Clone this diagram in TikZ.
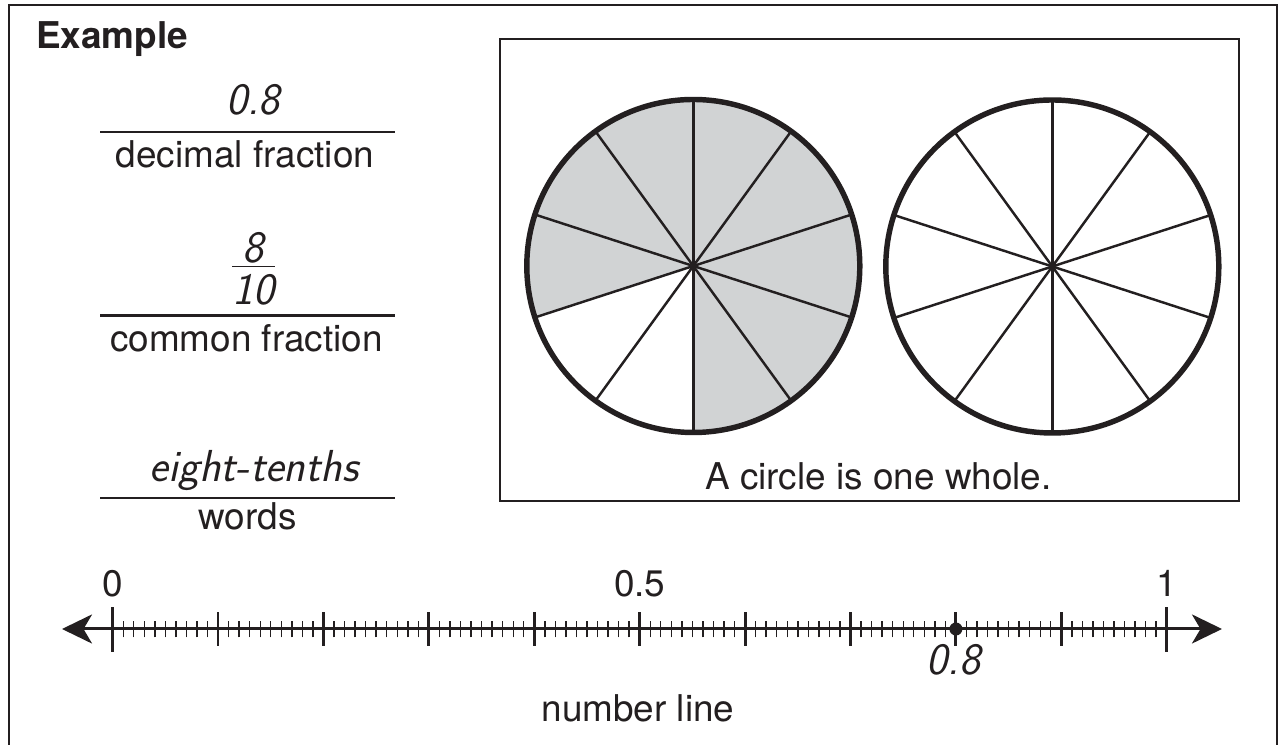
\documentclass[tikz,border=0pt]{standalone}
\usepackage{fontspec}
\setmainfont{TeX Gyre Heros}
\usetikzlibrary{arrows.meta,calc,positioning}
\definecolor{frInk}{HTML}{231F20}
\definecolor{frShade}{HTML}{D1D3D4}
\newcommand\frhand{\sffamily\itshape}
\tikzset{
  fr canvas/.style={fill=white},
  fr frame/.style={draw=frInk, line width=1.4pt},
  fr box/.style={draw=frInk, line width=1.1pt},
  fr rule/.style={draw=frInk, line width=1.4pt},
  fr rim/.style={draw=frInk, line width=3.1pt},
  fr spoke/.style={draw=frInk, line width=1.4pt},
  fr axis/.style={
    draw=frInk,
    line width=1.7pt,
    {Stealth[length=6mm,width=5.8mm,inset=1.7mm]}-{Stealth[length=6mm,width=5.8mm,inset=1.7mm]}
  },
  fr tick end/.style={draw=frInk, line width=1.7pt},
  fr tick tenth/.style={draw=frInk, line width=1.6pt},
  fr tick hundredth/.style={draw=frInk, line width=.8pt},
  fr dot/.style={circle, fill=frInk, inner sep=0, minimum size=2.6mm},
  fr title/.style={font=\fontsize{21}{25}\selectfont\bfseries, text=frInk, anchor=base west},
  fr label/.style={font=\fontsize{21}{25}\selectfont, text=frInk, anchor=base},
  fr hand/.style={font=\fontsize{25.5}{30}\selectfont\frhand, text=frInk, anchor=base}
}

\begin{document}
\begin{tikzpicture}[x=1cm,y=1cm]
  \useasboundingbox (0,0) rectangle (25.62,14.9);
  \path[fr canvas] (0,0) rectangle (25.62,14.9);
  \draw[fr frame] (.18,-.2) -- (.18,14.8) -- (25.54,14.8) -- (25.54,-.2);

  % left column: three ways to write it
  \node[fr title] (example) at (.6,13.93) {Example};
  \draw[fr rule] (2,12.26) -- (7.9,12.26);
  \node[fr hand] (decimal) at (5.06,12.6) {0.8};
  \node[fr label] (decimal name) at (4.9,11.54) {decimal fraction};

  \node[fr hand, anchor=north, inner sep=0] (common) at (5.07,10.4)
    {\setlength\arrayrulewidth{.9pt}\begin{tabular}{@{}c@{}}8\\[-7pt]\hline 10\end{tabular}};
  \draw[fr rule] (2,8.586) -- (7.9,8.586);
  \node[fr label] (common name) at (4.93,7.86) {common fraction};

  \node[fr hand] (words) at (5.08,5.26) {eight-tenths};
  \draw[fr rule] (2,4.945) -- (7.9,4.945);
  \node[fr label] (words name) at (4.95,4.3) {words};

  % circles
  \draw[fr box] (10,4.88) rectangle (24.78,14.12);
  \def\rr{3.33}
  \coordinate (left whole) at (13.866,9.58);
  \coordinate (right whole) at (21.046,9.57);
  \fill[frShade] (left whole) -- ++(-90:\rr) arc[start angle=-90, end angle=198, radius=\rr] -- cycle;
  \foreach \c in {left whole, right whole} {
    \foreach \a in {18,54,...,342}
      \draw[fr spoke] (\c) -- ++(\a:\rr);
    \draw[fr rim] (\c) circle[radius=\rr];
  }
  \node[fr label] (caption) at (17.57,5.114) {A circle is one whole.};

  % number line
  \coordinate (zero) at (2.254,2.32);
  \coordinate (one) at (23.334,2.32);
  \coordinate (tail) at (1.24,2.32);
  \coordinate (head) at (24.44,2.32);
  \draw[fr axis] (tail) -- (head);
  \foreach \i in {1,...,99}
    \draw[fr tick hundredth] ($(zero)!\i/100!(one)$) ++(0,-.166) -- ++(0,.332);
  \foreach \i in {1,...,9}
    \draw[fr tick tenth] ($(zero)!\i/10!(one)$) ++(0,-.34) -- ++(0,.68);
  \draw[fr tick end] (zero) ++(0,-.46) -- ++(0,.9)
    (one) ++(0,-.46) -- ++(0,.9);
  \node[fr label] (lab zero) at ($(zero)+(0,.64)$) {0};
  \node[fr label] (lab half) at ($(zero)!.5!(one)+(0,.64)$) {0.5};
  \node[fr label] (lab one) at ($(one)+(0,.64)$) {1};
  \node[fr dot] (mark) at ($(zero)!.8!(one)$) {};
  \node[fr hand] (mark label) at ($(mark)+(-.05,-.92)$) {0.8};
  \node[fr label] (line name) at (12.76,.466) {number line};
\end{tikzpicture}
\end{document}
